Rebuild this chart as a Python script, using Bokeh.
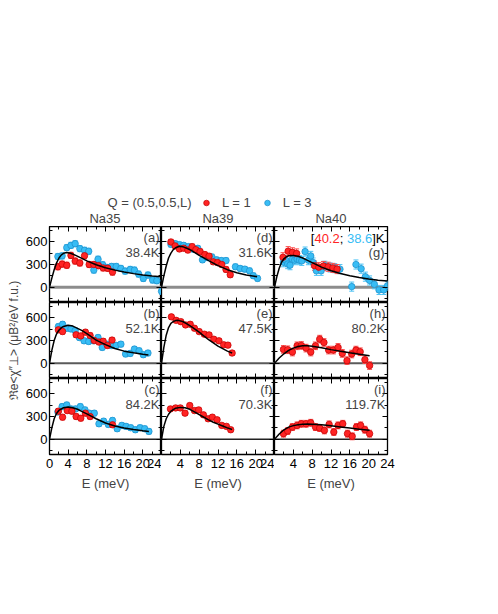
import math
from bokeh.plotting import figure
from bokeh.models import (ColumnDataSource, FixedTicker, LinearAxis, Range1d, Span, Label,
                          Whisker, TeeHead, Legend, LegendItem, CustomJSTickFormatter)
from bokeh.layouts import gridplot, column, row
from bokeh.embed import file_html
from bokeh.resources import INLINE

# ---------------- data ----------------
E_TICKS = [0, 4, 8, 12, 16, 20, 24]
E_MINOR = [2, 6, 10, 14, 18, 22]
Y_TICKS = [0, 300, 600]
Y_MINOR = [-150, 150, 450, 750]
SAMPLES = ["Na35", "Na39", "Na40"]
LEGEND_TITLE = "Q = (0.5,0.5,L)"
SERIES = ["L = 1", "L = 3"]
X_LABEL = "E (meV)"
Y_LABEL = "ℜe<χ″⊥> (μB²/eV f.u.)"

# panel (a) Na35 38.4K
a_E1 = [1.8, 2.7, 3.7, 4.6, 5.5, 6.5, 7.5, 8.5, 9.5, 10.5, 11.5, 12.5, 13.5]
a_S1 = [270, 305, 290, 420, 345, 320, 415, 300, 300, 285, 255, 250, 200]
a_E3 = [1.8, 2.7, 3.7, 4.6, 5.5, 6.5, 7.5, 8.4, 9.5, 10.4, 11.4, 12.3, 13.3, 14.3, 15.3, 16.2,
        17.3, 18.2, 19.1, 20.1, 21.1, 22.1, 23.0, 24.0]
a_S3 = [405, 413, 522, 552, 574, 509, 487, 474, 226, 370, 296, 261, 274, 274, 248, 213,
        235, 226, 174, 117, 161, 96, 87, -52]
a_fitE = [0, 0.5, 1, 1.5, 2, 2.5, 3, 3.7, 4.5, 5.5, 6.5, 8, 10, 12, 14, 16, 18, 20, 22, 24]
a_fitS = [0, 121, 230, 318, 382, 424, 447, 457, 448, 423, 393, 348, 297, 257, 226, 201, 180, 163, 149, 138]

# panel (b) Na35 52.1K
b_E1 = [1.9, 2.8, 5.7, 6.7, 7.7, 8.7, 9.6, 10.6, 11.5, 12.4, 13.4]
b_S1 = [440, 418, 375, 360, 410, 365, 300, 280, 290, 235, 305]
b_E3 = [1.9, 2.8, 3.7, 4.6, 5.5, 6.4, 7.4, 8.4, 9.4, 10.4, 11.3, 12.3, 13.3, 14.3, 15.3, 16.3,
        17.3, 18.2, 19.2, 20.1, 21.1]
b_S3 = [483, 513, 461, 452, 430, 339, 296, 287, 296, 339, 209, 252, 235, 235, 252, 122,
        130, 187, 165, 113, 135]
b_fitE = [0, 0.5, 1, 1.5, 2, 2.5, 3, 4, 5, 6, 7, 8, 10, 12, 14, 16, 18, 20, 21.2]
b_fitS = [0, 170, 300, 385, 435, 465, 485, 500, 490, 460, 430, 390, 305, 245, 195, 160, 138, 118, 110]

# panel (c) Na35 84.2K
c_E1 = [1.9, 2.8, 3.8, 4.8, 5.7, 6.7, 7.7, 8.7, 13.5]
c_S1 = [370, 291, 378, 370, 300, 278, 344, 300, 191]
c_E3 = [1.8, 2.7, 3.7, 4.6, 5.6, 6.6, 7.6, 8.5, 9.6, 10.6, 11.6, 12.6, 13.5, 14.5, 15.5, 16.4,
        17.4, 18.4, 19.4, 20.4, 21.3]
c_S3 = [360, 430, 452, 400, 400, 430, 387, 344, 344, 204, 239, 196, 248, 139, 183, 170,
        152, 126, 152, 139, 104]
c_fitE = [0, 0.5, 1, 1.5, 2, 3, 4, 5, 6, 7, 8, 10, 12, 14, 16, 18, 20, 21.3]
c_fitS = [0, 150, 270, 340, 380, 415, 425, 415, 395, 365, 335, 270, 215, 175, 148, 128, 112, 104]

# panel (d) Na39 31.6K
d_E1 = [2.0, 2.9, 3.8, 4.7, 5.6, 6.5, 7.3, 8.2, 9.2, 10.1, 11.0, 11.9, 12.8, 13.7, 14.6]
d_S1 = [596, 545, 505, 515, 490, 535, 495, 470, 430, 410, 335, 325, 300, 235, 165]
d_E3 = [2.0, 2.9, 3.8, 4.7, 5.7, 6.8, 7.7, 8.7, 9.7, 10.7, 11.7, 12.7, 13.7, 15.7, 16.7, 17.7,
        18.7, 19.5, 20.4]
d_S3 = [565, 574, 561, 552, 535, 500, 513, 361, 391, 400, 361, 352, 352, 270, 248, 239,
        217, 152, 117]
d_fitE = [0, 0.5, 1, 1.5, 2, 2.5, 3, 3.8, 4.5, 5.5, 6.5, 8, 10, 12, 14, 16, 18, 20.3]
d_fitS = [0, 150, 280, 385, 450, 495, 520, 540, 535, 510, 480, 420, 350, 285, 232, 192, 163, 140]

# panel (e) Na39 47.5K
e_E1 = [2.1, 3.1, 4.1, 5.1, 6.1, 7.0, 8.0, 9.1, 10.1, 11.1, 12.2, 13.2, 14.1, 15.0]
e_S1 = [611, 565, 548, 505, 513, 461, 417, 383, 374, 317, 296, 244, 239, 135]
e_fitE = [0, 0.5, 1, 1.5, 2, 2.5, 3, 3.5, 4.5, 5.5, 6.5, 8, 10, 12, 14, 15]
e_fitS = [0, 210, 370, 470, 525, 550, 562, 565, 550, 515, 475, 410, 310, 225, 160, 135]

# panel (f) Na39 70.3K
f_E1 = [1.9, 3.0, 4.0, 5.0, 6.0, 7.0, 7.9, 8.9, 9.9, 10.8, 11.8, 12.8, 13.8, 14.7]
f_S1 = [400, 413, 413, 344, 444, 378, 387, 322, 270, 291, 257, 183, 170, 126]
f_fitE = [0, 0.5, 1, 1.5, 2, 3, 4, 5, 6, 7, 8, 9, 10, 11, 12, 13, 14, 15]
f_fitS = [0, 170, 270, 330, 370, 410, 420, 415, 395, 360, 325, 290, 255, 225, 200, 175, 150, 128]

# panel (g) Na40 [40.2; 38.6]K
g_E1 = [1.8, 2.9, 3.8, 4.7, 8.5, 9.4, 10.4, 11.4, 12.4, 13.3]
g_S1 = [395, 475, 460, 445, 285, 265, 280, 270, 255, 240]
g_E3 = [1.9, 2.4, 2.8, 3.3, 3.8, 4.3, 4.8, 5.3, 5.8, 6.5, 7.2, 7.7, 8.2, 8.9, 9.9, 10.7, 11.8,
        12.8, 13.9, 16.4, 17.3, 18.4, 19.3, 20.2, 21.2, 22.2, 23.2, 24.0]
g_S3 = [330, 357, 305, 291, 370, 357, 370, 357, 348, 470, 357, 413, 326, 217, 217, 283, 261,
        252, 239, 9, 300, 245, 140, 90, 40, -35, -35, 20]
g_fitE = [0, 0.5, 1, 1.5, 2, 2.5, 3, 4, 5, 6, 7, 8, 10, 12, 14, 16, 18, 20, 22, 24]
g_fitS = [0, 140, 250, 330, 375, 400, 415, 420, 408, 385, 355, 325, 265, 218, 182, 152, 128, 108, 93, 82]

# panel (h) Na40 80.2K
h_E1 = [1.9, 2.8, 3.8, 4.8, 5.7, 6.7, 7.7, 8.7, 9.6, 10.5, 11.5, 12.5, 13.5, 14.4, 15.4, 16.4,
        17.3, 18.2, 19.2, 20.2]
h_S1 = [183, 178, 148, 230, 235, 200, 148, 230, 318, 274, 174, 174, 209, 130, 35, 122,
        174, 152, 48, -30]
h_fitE = [0, 1, 2, 3, 4, 5, 6, 7, 8, 10, 12, 14, 16, 18, 20.2]
h_fitS = [0, 70, 125, 170, 200, 220, 230, 230, 225, 205, 180, 158, 138, 120, 100]

# panel (i) Na40 119.7K
i_E1 = [1.9, 2.8, 3.8, 4.8, 5.7, 6.7, 7.7, 8.7, 9.6, 10.6, 11.6, 12.6, 13.5, 14.5, 15.5, 16.5,
        17.4, 18.3, 19.2, 20.2]
i_S1 = [74, 109, 161, 183, 204, 204, 217, 161, 148, 117, 196, 96, 183, 204, 74, 39,
        161, 183, 126, 74]
i_fitE = [0, 1, 2, 3, 4, 5, 6, 7, 8, 10, 12, 14, 16, 18, 20.2]
i_fitS = [0, 70, 125, 160, 180, 192, 198, 200, 198, 190, 178, 163, 148, 133, 118]

# error bar half-heights
ERR = {"a": 40, "b": 35, "c": 35, "d": 35, "e": 30, "f": 30, "g": 60, "h": 50, "i": 45}

TEMPS = {"a": "38.4K", "b": "52.1K", "c": "84.2K", "d": "31.6K", "e": "47.5K",
         "f": "70.3K", "h": "80.2K", "i": "119.7K"}
G_TEMPS = ["40.2", "38.6"]

PANELS = {
    "a": (a_E1, a_S1, a_E3, a_S3, a_fitE, a_fitS),
    "b": (b_E1, b_S1, b_E3, b_S3, b_fitE, b_fitS),
    "c": (c_E1, c_S1, c_E3, c_S3, c_fitE, c_fitS),
    "d": (d_E1, d_S1, d_E3, d_S3, d_fitE, d_fitS),
    "e": (e_E1, e_S1, None, None, e_fitE, e_fitS),
    "f": (f_E1, f_S1, None, None, f_fitE, f_fitS),
    "g": (g_E1, g_S1, g_E3, g_S3, g_fitE, g_fitS),
    "h": (h_E1, h_S1, None, None, h_fitE, h_fitS),
    "i": (i_E1, i_S1, None, None, i_fitE, i_fitS),
}
GRID_KEYS = [["a", "d", "g"], ["b", "e", "h"], ["c", "f", "i"]]

# ---------------- styling / layout ----------------
FONT = "Liberation Sans"
RED, RED_EDGE, RED_ERR = "#ff2424", "#c00000", "#ff4a4a"
BLUE, BLUE_EDGE, BLUE_ERR = "#38bdf5", "#1b8cc8", "#4cc3f5"
FW, FH = 113, 76
YLAB_W = 22
LEFT, RIGHT, BOTTOM = 26, 10, 40
HEAD_H = 226
ZERO_STYLE = [("#8c8c8c", 3.0), ("#5a5a5a", 2.0), ("#222222", 1.5)]
MSIZE = 6.5


def style_axis(ax, labeled, standoff=4):
    ax.axis_line_color = None
    ax.major_tick_in = 5
    ax.major_tick_out = 0
    ax.minor_tick_in = 3
    ax.minor_tick_out = 0
    ax.major_tick_line_color = "black"
    ax.minor_tick_line_color = "black"
    if labeled:
        ax.major_label_text_font = FONT
        ax.major_label_text_font_size = "13px"
        ax.major_label_text_color = "black"
        ax.major_label_standoff = standoff
    else:
        ax.formatter = CustomJSTickFormatter(code="return ''")
        ax.major_label_text_font_size = "0px"
        ax.major_label_standoff = 0


def add_series(p, E, S, err, fill, edge, ecol):
    src = ColumnDataSource(dict(x=E, y=S, up=[v + err for v in S], lo=[v - err for v in S]))
    w = Whisker(source=src, base="x", upper="up", lower="lo", line_color=ecol, line_width=1,
                upper_head=TeeHead(size=5, line_color=ecol, line_width=1),
                lower_head=TeeHead(size=5, line_color=ecol, line_width=1), level="underlay")
    p.add_layout(w)
    p.scatter("x", "y", source=src, size=MSIZE, fill_color=fill, line_color=edge, line_width=0.7)


def make_panel(key, row_i, col):
    lb = LEFT if col == 0 else 0
    rb = RIGHT if col == 2 else 0
    bb = BOTTOM if row_i == 2 else 0
    p = figure(width=FW + lb + rb, height=FH + bb,
               x_range=Range1d(0, 24), y_range=Range1d(-200, 800),
               output_backend="svg", toolbar_location=None,
               x_axis_location=None, y_axis_location=None,
               min_border_left=lb, min_border_right=rb, min_border_top=0, min_border_bottom=bb,
               outline_line_color="black", outline_line_width=1.3)
    p.xgrid.visible = False
    p.ygrid.visible = False

    for side in ["below", "above"]:
        labeled = side == "below" and row_i == 2
        ax = LinearAxis(ticker=FixedTicker(ticks=E_TICKS, minor_ticks=E_MINOR))
        style_axis(ax, labeled, 4)
        if labeled:
            if col > 0:
                ax.major_label_overrides = {0: ""}
            ax.axis_label = X_LABEL
            ax.axis_label_text_font = FONT
            ax.axis_label_text_font_size = "13px"
            ax.axis_label_text_font_style = "normal"
            ax.axis_label_standoff = 5
        p.add_layout(ax, side)
    for side in ["left", "right"]:
        labeled = side == "left" and col == 0
        ax = LinearAxis(ticker=FixedTicker(ticks=Y_TICKS, minor_ticks=Y_MINOR))
        style_axis(ax, labeled, 2)
        p.add_layout(ax, side)

    zc, zw = ZERO_STYLE[row_i]
    p.add_layout(Span(location=0, dimension="width", line_color=zc, line_width=zw, level="underlay"))

    E1, S1, E3, S3, fE, fS = PANELS[key]
    if E3 is not None:
        add_series(p, E3, S3, ERR[key], BLUE, BLUE_EDGE, BLUE_ERR)
    add_series(p, E1, S1, ERR[key], RED, RED_EDGE, RED_ERR)
    p.line(fE, fS, line_color="black", line_width=1.5)

    common = dict(text_font=FONT, text_font_size="13px", text_baseline="middle")
    tag = "(" + key + ")"
    if key != "g":
        p.add_layout(Label(x=24, y=650, x_offset=-2, text=tag, text_align="right", **common))
        p.add_layout(Label(x=24, y=460, x_offset=-2, text=TEMPS[key], text_align="right", **common))
    else:
        p.add_layout(Label(x=24, y=460, x_offset=-3, text=tag, text_align="right", **common))
        parts = [("]K", "black", 12.3), (G_TEMPS[1], BLUE, 25.3), ("; ", "black", 7.2),
                 (G_TEMPS[0], RED, 25.3), ("[", "black", 3.6)]
        off = -3
        for txt, colr, wdt in parts:
            p.add_layout(Label(x=24, y=640, x_offset=off, text=txt, text_align="right",
                               text_color=colr, **common))
            off -= wdt
    return p


rows = [[make_panel(k, r, c) for c, k in enumerate(GRID_KEYS[r])] for r in range(3)]
grid = gridplot(rows, toolbar_location=None)

# ---------------- y-axis title strip ----------------
GRID_H = 3 * FH + BOTTOM
ylab = figure(width=YLAB_W, height=GRID_H, x_range=Range1d(0, YLAB_W), y_range=Range1d(0, GRID_H),
              output_backend="svg", toolbar_location=None, x_axis_location=None, y_axis_location=None,
              min_border=0, outline_line_color=None)
ylab.xgrid.visible = False
ylab.ygrid.visible = False
ylab.add_layout(Label(x=YLAB_W / 2 + 2, y=GRID_H - 1.5 * FH, text=Y_LABEL, angle=math.pi / 2,
                      text_align="center", text_baseline="middle",
                      text_font=FONT, text_font_size="12px"))

# ---------------- header: legend and column titles ----------------
TOTAL_W = YLAB_W + LEFT + 3 * FW + RIGHT
X0 = YLAB_W + LEFT
head = figure(width=TOTAL_W, height=HEAD_H, x_range=Range1d(0, TOTAL_W), y_range=Range1d(0, HEAD_H),
              output_backend="svg", toolbar_location=None, x_axis_location=None, y_axis_location=None,
              min_border=0, outline_line_color=None)
head.xgrid.visible = False
head.ygrid.visible = False
# hidden renderers that only feed the legend glyphs
r1 = head.scatter(x=a_E1, y=a_S1, size=6, fill_color=RED, line_color=RED_EDGE, line_width=0.7)
r3 = head.scatter(x=a_E3, y=a_S3, size=6, fill_color=BLUE, line_color=BLUE_EDGE, line_width=0.7)
r1.visible = False
r3.visible = False
head.add_layout(Label(x=107, y=24, text=LEGEND_TITLE, text_font=FONT, text_font_size="13px",
                      text_baseline="middle", text_align="left"))
leg = Legend(items=[LegendItem(label=SERIES[0], renderers=[r1]), LegendItem(label=SERIES[1], renderers=[r3])],
             orientation="horizontal", location=(199, 16), padding=0, margin=0, spacing=9,
             glyph_width=14, glyph_height=15, label_standoff=9, border_line_color=None,
             background_fill_alpha=0, label_text_font=FONT, label_text_font_size="13px",
             label_height=15)
head.add_layout(leg)
for c, name in enumerate(SAMPLES):
    head.add_layout(Label(x=X0 + FW * c + FW / 2, y=8, text=name, text_font=FONT,
                          text_font_size="13px", text_baseline="middle", text_align="center"))

layout = column(head, row(ylab, grid))
open("out.html", "w").write(file_html(layout, INLINE))
